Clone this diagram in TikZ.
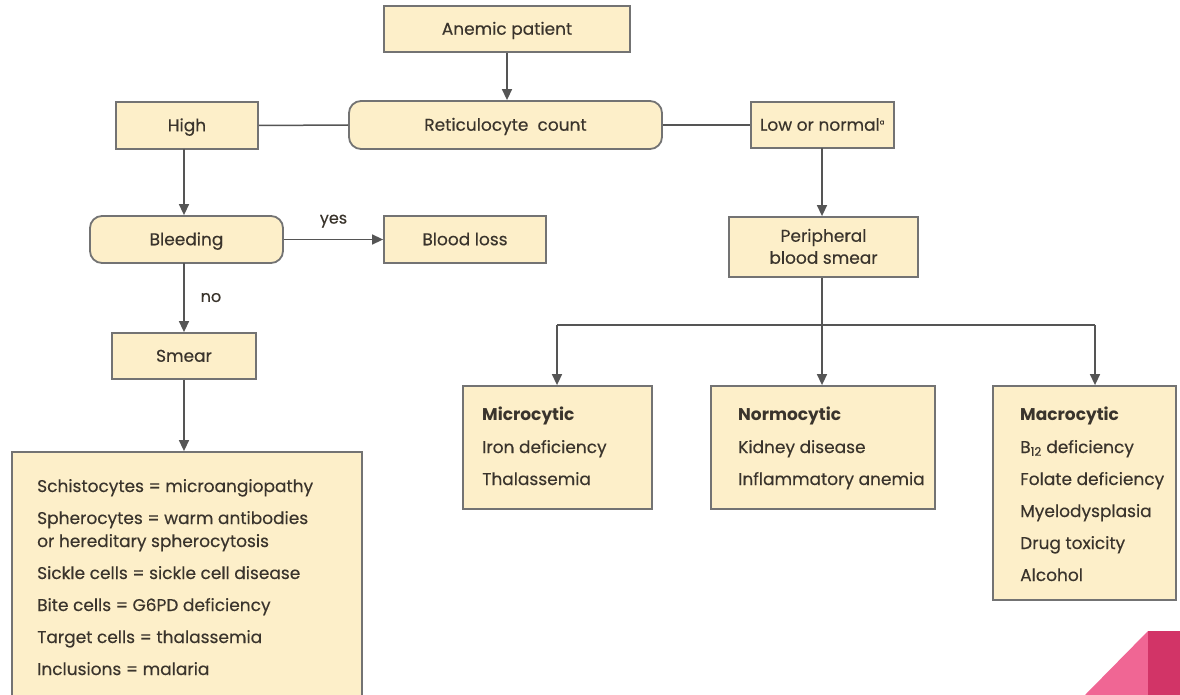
\documentclass[tikz,border=0pt]{standalone}
\usepackage{fontspec}
\setmainfont{Poppins}[UprightFeatures={FakeBold=0.3}]
\usetikzlibrary{arrows.meta}
\definecolor{boxfill}{HTML}{FDEFC9}
\definecolor{boxline}{HTML}{737373}
\definecolor{txt}{HTML}{3A342C}
\definecolor{conncol}{HTML}{555555}
\definecolor{pinkL}{HTML}{F06694}
\definecolor{pinkD}{HTML}{D23467}
\begin{document}
\begin{tikzpicture}[x=1pt,y=-1pt,
 box/.style={draw=boxline,fill=boxfill,line width=1.8pt,inner sep=0pt,text=txt,font=\fontsize{17}{22}\selectfont,align=center,text height=11.5pt,text depth=0pt},
 rbox/.style={box,rounded corners=12pt},
 conn/.style={draw=conncol,line width=1.5pt},
 arr/.style={conn,-{Triangle[length=11pt,width=10pt]}},
 lbl/.style={text=txt,font=\fontsize{16}{18}\selectfont,inner sep=0pt},
 txtline/.style={text=txt,font=\fontsize{17}{20}\selectfont,inner sep=0pt,anchor=base west},
 head/.style={txtline,font=\fontsize{17}{20}\selectfont\bfseries},
]
\useasboundingbox[fill=white] (0,0) rectangle (1180,695);

% boxes
\node[box,minimum width=246pt,minimum height=46pt] (anemic) at (507,29) {Anemic patient};
\node[rbox,minimum width=313pt,minimum height=48pt] (retic) at (505.5,125) {Reticulocyte\ \ count};
\node[box,minimum width=142pt,minimum height=47pt] (high) at (187,125.5) {High};
\node[box,minimum width=143pt,minimum height=46pt] (low) at (822.5,125) {Low or normal\textsuperscript{\fontsize{7}{8}\selectfont a}};
\node[rbox,minimum width=193pt,minimum height=47pt] (bleed) at (186.5,239.5) {Bleeding};
\node[box,minimum width=162pt,minimum height=47pt] (bloss) at (465,239.5) {Blood loss};
\node[box,minimum width=144pt,minimum height=46pt] (smear) at (184,356) {Smear};
\node[box,minimum width=189pt,minimum height=60pt,text height=33.5pt] (periph) at (823.5,247) {Peripheral\\blood smear};
\node[box,minimum width=350pt,minimum height=270pt] (big) at (187,587) {};
\node[box,minimum width=189pt,minimum height=123pt] (micro) at (557.5,447.5) {};
\node[box,minimum width=224pt,minimum height=123pt] (normo) at (823,447.5) {};
\node[box,minimum width=183pt,minimum height=214pt] (macro) at (1084.5,493) {};

% box texts
\node[txtline] (b1) at (37,492) {Schistocytes = microangiopathy};
\node[txtline] (b2) at (37,524) {Spherocytes = warm antibodies};
\node[txtline] (b3) at (37,547) {or hereditary spherocytosis};
\node[txtline] (b4) at (37,579) {Sickle cells = sickle cell disease};
\node[txtline] (b5) at (37,611) {Bite cells = G6PD deficiency};
\node[txtline] (b6) at (37,643) {Target cells = thalassemia};
\node[txtline] (b7) at (37,675) {Inclusions = malaria};

\node[head] (m1) at (482,420) {Microcytic};
\node[txtline] (m2) at (482,453) {Iron deficiency};
\node[txtline] (m3) at (482,485) {Thalassemia};

\node[head] (n1) at (738,420) {Normocytic};
\node[txtline] (n2) at (738,453) {Kidney disease};
\node[txtline] (n3) at (738,485) {Inflammatory anemia};

\node[head] (c1) at (1020,420) {Macrocytic};
\node[txtline] (c2) at (1020,453) {B\textsubscript{12} deficiency};
\node[txtline] (c3) at (1020,485) {Folate deficiency};
\node[txtline] (c4) at (1020,517) {Myelodysplasia};
\node[txtline] (c5) at (1020,549) {Drug toxicity};
\node[txtline] (c6) at (1020,581) {Alcohol};

% connectors
\draw[arr] (anemic.south) -- (anemic.south |- retic.north);
\draw[conn] (high.east) -- (retic.west);
\draw[conn] (retic.east) -- (low.west);
\coordinate (hs) at (184,149);
\draw[arr] (hs) -- (hs |- bleed.north);
\draw[arr] (bleed.east) -- node[lbl,above=11pt] (yes) {yes} (bloss.west);
\coordinate (bs) at (184,263);
\draw[arr] (bs) -- node[lbl,right=16pt] (no) {no} (bs |- smear.north);
\draw[arr] (smear.south) -- (smear.south |- big.north);
\coordinate (ls) at (822,148);
\draw[arr] (ls) -- (ls |- periph.north);
\coordinate (jL) at (557,325);
\coordinate (jM) at (822,325);
\coordinate (jR) at (1095,325);
\draw[conn] (jM |- periph.south) -- (jM);
\draw[conn] (jL) -- (jR);
\draw[arr] (jL) -- (jL |- micro.north);
\draw[arr] (jM) -- (jM |- normo.north);
\draw[arr] (jR) -- (jR |- macro.north);

% corner decoration
\fill[pinkL] (1085,695) -- (1148,631) -- (1148,695) -- cycle;
\fill[pinkD] (1148,631) rectangle (1180,695);
\end{tikzpicture}
\end{document}
